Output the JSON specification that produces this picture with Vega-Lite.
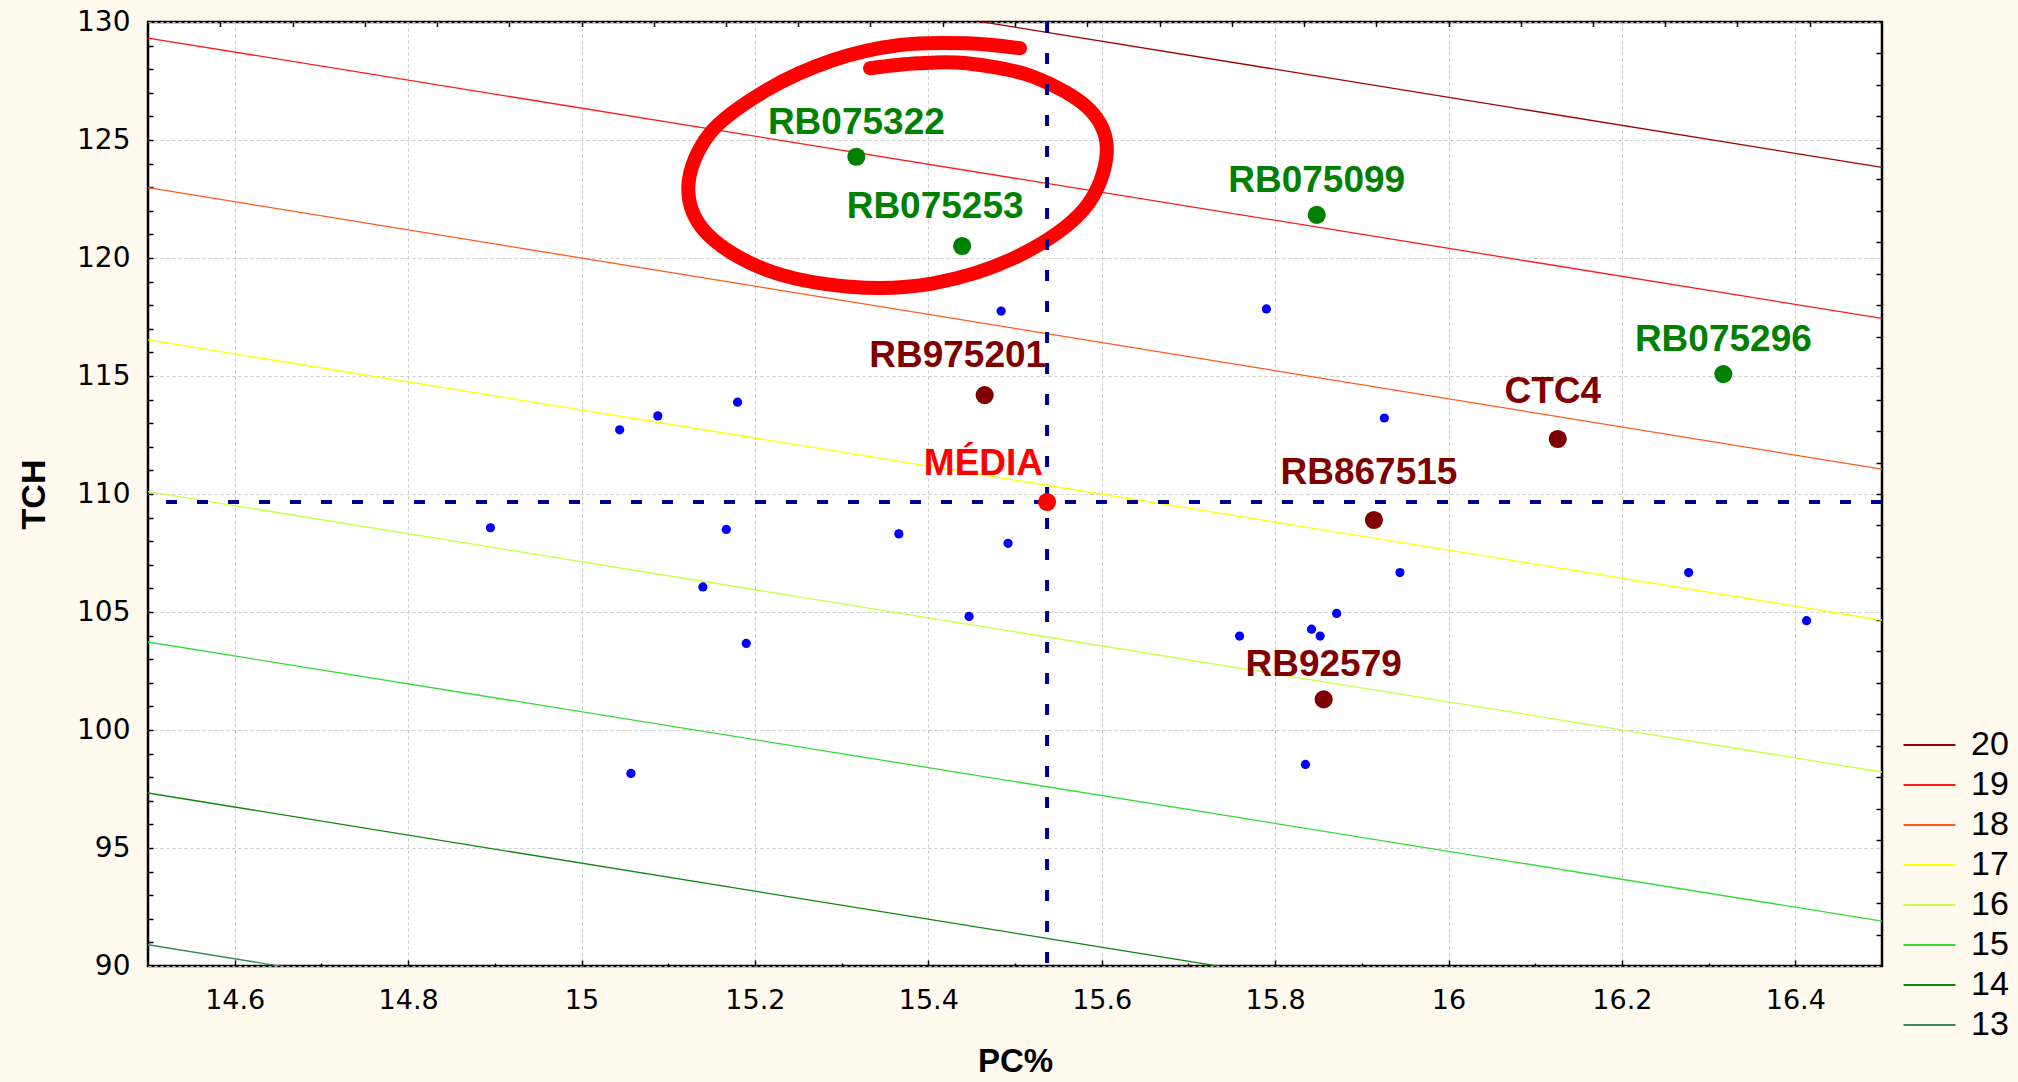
{
  "$schema": "https://vega.github.io/schema/vega-lite/v6.json",
  "width": 1734,
  "height": 944,
  "autosize": {"type": "none"},
  "padding": {"left": 148, "top": 22, "right": 136, "bottom": 116},
  "background": "#fff9ee",
  "config": {
    "view": {"fill": "white", "stroke": "black", "strokeWidth": 2.5},
    "axis": {"domain": false, "tickColor": "black", "tickWidth": 1.5}
  },
  "datasets": {
    "contours": [
      {"level": 20, "pc": 14.5, "tch": 135.72}, {"level": 20, "pc": 16.5, "tch": 123.84},
      {"level": 19, "pc": 14.5, "tch": 129.32}, {"level": 19, "pc": 16.5, "tch": 117.44},
      {"level": 18, "pc": 14.5, "tch": 122.98}, {"level": 18, "pc": 16.5, "tch": 111.05},
      {"level": 17, "pc": 14.5, "tch": 116.53}, {"level": 17, "pc": 16.5, "tch": 104.65},
      {"level": 16, "pc": 14.5, "tch": 110.10}, {"level": 16, "pc": 16.5, "tch": 98.22},
      {"level": 15, "pc": 14.5, "tch": 103.73}, {"level": 15, "pc": 16.5, "tch": 91.9},
      {"level": 14, "pc": 14.5, "tch": 97.33}, {"level": 14, "pc": 16.5, "tch": 85.45},
      {"level": 13, "pc": 14.5, "tch": 90.90}, {"level": 13, "pc": 16.5, "tch": 79.02}
    ],
    "clones": [
      {"pc": 15.484, "tch": 117.75}, {"pc": 15.790, "tch": 117.84}, {"pc": 15.926, "tch": 113.22},
      {"pc": 15.944, "tch": 106.67}, {"pc": 16.277, "tch": 106.67}, {"pc": 15.871, "tch": 104.94},
      {"pc": 15.842, "tch": 104.27}, {"pc": 15.852, "tch": 103.98}, {"pc": 15.759, "tch": 103.98},
      {"pc": 16.413, "tch": 104.63}, {"pc": 15.044, "tch": 112.72}, {"pc": 15.088, "tch": 113.31},
      {"pc": 15.180, "tch": 113.89}, {"pc": 15.167, "tch": 108.50}, {"pc": 15.366, "tch": 108.31},
      {"pc": 15.492, "tch": 107.91}, {"pc": 14.895, "tch": 108.57}, {"pc": 15.140, "tch": 106.06},
      {"pc": 15.447, "tch": 104.81}, {"pc": 15.190, "tch": 103.67}, {"pc": 15.057, "tch": 98.16},
      {"pc": 15.835, "tch": 98.54}
    ],
    "destaques": [
      {"rotulo": "RB075322", "tipo": "clone", "pc": 15.317, "tch": 124.29},
      {"rotulo": "RB075253", "tipo": "clone", "pc": 15.439, "tch": 120.51},
      {"rotulo": "RB075099", "tipo": "clone", "pc": 15.848, "tch": 121.83},
      {"rotulo": "RB075296", "tipo": "clone", "pc": 16.317, "tch": 115.08},
      {"rotulo": "CTC4", "tipo": "padrao", "pc": 16.126, "tch": 112.33},
      {"rotulo": "RB867515", "tipo": "padrao", "pc": 15.914, "tch": 108.90},
      {"rotulo": "RB92579", "tipo": "padrao", "pc": 15.856, "tch": 101.3},
      {"rotulo": "RB975201", "tipo": "padrao", "pc": 15.465, "tch": 114.19}
    ],
    "media": [{"rotulo": "MÉDIA", "pc": 15.537, "tch": 109.66}],
    "elipse": [
      {"ordem": 1, "pc": 15.5058, "tch": 128.886}, {"ordem": 2, "pc": 15.4443, "tch": 129.097},
      {"ordem": 3, "pc": 15.3674, "tch": 129.025}, {"ordem": 4, "pc": 15.2904, "tch": 128.390},
      {"ordem": 5, "pc": 15.2136, "tch": 127.119}, {"ordem": 6, "pc": 15.1482, "tch": 125.284},
      {"ordem": 7, "pc": 15.1232, "tch": 123.021}, {"ordem": 8, "pc": 15.1444, "tch": 121.047},
      {"ordem": 9, "pc": 15.2136, "tch": 119.492}, {"ordem": 10, "pc": 15.3097, "tch": 118.784},
      {"ordem": 11, "pc": 15.4058, "tch": 118.928}, {"ordem": 12, "pc": 15.5020, "tch": 120.055},
      {"ordem": 13, "pc": 15.5788, "tch": 122.034}, {"ordem": 14, "pc": 15.6058, "tch": 124.436},
      {"ordem": 15, "pc": 15.5865, "tch": 126.271}, {"ordem": 16, "pc": 15.5211, "tch": 127.682},
      {"ordem": 17, "pc": 15.4443, "tch": 128.250}, {"ordem": 18, "pc": 15.3882, "tch": 128.250},
      {"ordem": 19, "pc": 15.3328, "tch": 128.038}
    ]
  },
  "layer": [
    {
      "data": {"name": "contours"},
      "mark": {"type": "line", "clip": true, "strokeWidth": 1.3},
      "encoding": {
        "x": {"field": "pc", "type": "quantitative", "scale": {"domain": [14.5, 16.5], "nice": false, "zero": false},
          "axis": {"orient": "bottom", "title": "PC%", "values": [14.6, 14.8, 15, 15.2, 15.4, 15.6, 15.8, 16, 16.2, 16.4], "format": "~f",
            "ticks": false, "grid": true, "gridColor": "#c8c8c8", "gridDash": [3, 3], "gridWidth": 1,
            "labelFont": "DejaVu Sans", "labelFontSize": 27, "labelColor": "black", "labelPadding": 21,
            "titleFont": "Liberation Sans", "titleFontWeight": "bold", "titleFontSize": 33, "titleColor": "black",
            "titleX": 867, "titleY": 95, "titleBaseline": "middle", "titleAlign": "center"}},
        "y": {"field": "tch", "type": "quantitative", "scale": {"domain": [90, 130], "nice": false, "zero": false},
          "axis": {"orient": "left", "title": "TCH", "values": [90, 95, 100, 105, 110, 115, 120, 125, 130],
            "ticks": false, "grid": true, "gridColor": "#c8c8c8", "gridDash": [3, 3], "gridWidth": 1,
            "labelFont": "DejaVu Sans", "labelFontSize": 28, "labelColor": "black", "labelPadding": 18,
            "titleFont": "Liberation Sans", "titleFontWeight": "bold", "titleFontSize": 34, "titleColor": "black",
            "titleX": -114, "titleY": 472, "titleBaseline": "middle", "titleAlign": "center", "titleAngle": 270}},
        "color": {"field": "level", "type": "nominal",
          "scale": {"domain": [20, 19, 18, 17, 16, 15, 14, 13],
            "range": ["#a00000", "#ff1a1a", "#ff5a1a", "#ffff00", "#c8ff40", "#33dd33", "#0a8a0a", "#3a8a5a"]},
          "legend": {"orient": "none", "legendX": 1754, "legendY": 706, "title": null, "padding": 0,
            "symbolType": "stroke", "symbolSize": 2704, "symbolStrokeWidth": 2.2, "clipHeight": 34, "rowPadding": 6,
            "labelFont": "Liberation Sans", "labelFontSize": 34, "labelColor": "black", "labelOffset": 14}}
      }
    },
    {
      "data": {"name": "elipse"},
      "mark": {"type": "line", "color": "#ff0000", "strokeWidth": 14, "strokeCap": "round", "interpolate": "cardinal"},
      "encoding": {
        "x": {"field": "pc", "type": "quantitative", "scale": {"domain": [14.5, 16.5], "nice": false, "zero": false},
          "axis": {"orient": "top", "title": null, "labels": false, "grid": false, "tickSize": -4.5,
            "values": [14.583333, 14.666667, 14.75, 14.833333, 14.916667, 15.0, 15.083333, 15.166667, 15.25, 15.333333, 15.416667, 15.5, 15.583333, 15.666667, 15.75, 15.833333, 15.916667, 16.0, 16.083333, 16.166667, 16.25, 16.333333, 16.416667]}},
        "y": {"field": "tch", "type": "quantitative", "scale": {"domain": [90, 130], "nice": false, "zero": false}, "axis": null},
        "order": {"field": "ordem", "type": "quantitative"}
      }
    },
    {
      "data": {"name": "media"},
      "mark": {"type": "rule", "color": "#00008f", "strokeWidth": 4, "strokeDash": [11, 20]},
      "encoding": {
        "x": {"field": "pc", "type": "quantitative", "scale": {"domain": [14.5, 16.5], "nice": false, "zero": false},
          "axis": {"orient": "bottom", "title": null, "labels": false, "grid": false, "tickSize": -6,
            "values": [14.6, 14.8, 15, 15.2, 15.4, 15.6, 15.8, 16, 16.2, 16.4]}}
      }
    },
    {
      "data": {"name": "media"},
      "mark": {"type": "rule", "color": "#00008f", "strokeWidth": 4, "strokeDash": [11, 20]},
      "encoding": {
        "y": {"field": "tch", "type": "quantitative", "scale": {"domain": [90, 130], "nice": false, "zero": false},
          "axis": {"orient": "left", "title": null, "labels": false, "grid": false, "tickSize": -5,
            "values": [91, 92, 93, 94, 95, 96, 97, 98, 99, 100, 101, 102, 103, 104, 105, 106, 107, 108, 109, 110, 111, 112, 113, 114, 115, 116, 117, 118, 119, 120, 121, 122, 123, 124, 125, 126, 127, 128, 129]}}
      }
    },
    {
      "data": {"name": "clones"},
      "mark": {"type": "circle", "color": "#0000ff", "opacity": 1, "size": 85},
      "encoding": {
        "x": {"field": "pc", "type": "quantitative", "scale": {"domain": [14.5, 16.5], "nice": false, "zero": false},
          "axis": {"orient": "bottom", "title": null, "labels": false, "grid": false, "tickSize": -3,
            "values": [14.7, 14.9, 15.1, 15.3, 15.5, 15.7, 15.9, 16.1, 16.3]}},
        "y": {"field": "tch", "type": "quantitative", "scale": {"domain": [90, 130], "nice": false, "zero": false},
          "axis": {"orient": "right", "title": null, "labels": false, "grid": false, "tickSize": -6,
            "values": [91.333333, 92.666667, 94, 95.333333, 96.666667, 98, 99.333333, 100.666667, 102, 103.333333, 104.666667, 106, 107.333333, 108.666667, 110, 111.333333, 112.666667, 114, 115.333333, 116.666667, 118, 119.333333, 120.666667, 122, 123.333333, 124.666667, 126, 127.333333, 128.666667]}}
      }
    },
    {
      "data": {"name": "destaques"},
      "mark": {"type": "circle", "opacity": 1, "size": 330},
      "encoding": {
        "x": {"field": "pc", "type": "quantitative", "scale": {"domain": [14.5, 16.5], "nice": false, "zero": false}, "axis": null},
        "y": {"field": "tch", "type": "quantitative", "scale": {"domain": [90, 130], "nice": false, "zero": false}, "axis": null},
        "color": {"condition": {"test": "datum.tipo === 'clone'", "value": "#008000"}, "value": "#800000"}
      }
    },
    {
      "data": {"name": "media"},
      "mark": {"type": "circle", "opacity": 1, "size": 330, "color": "#ff0000"},
      "encoding": {
        "x": {"field": "pc", "type": "quantitative", "scale": {"domain": [14.5, 16.5], "nice": false, "zero": false}, "axis": null},
        "y": {"field": "tch", "type": "quantitative", "scale": {"domain": [90, 130], "nice": false, "zero": false}, "axis": null}
      }
    },
    {
      "data": {"name": "destaques"},
      "transform": [{"filter": {"field": "rotulo", "oneOf": ["RB075322", "RB075099", "RB075296", "RB92579"]}}],
      "mark": {"type": "text", "font": "Liberation Sans", "fontWeight": "bold", "fontSize": 37, "align": "center", "baseline": "alphabetic", "dy": -23},
      "encoding": {
        "x": {"field": "pc", "type": "quantitative", "scale": {"domain": [14.5, 16.5], "nice": false, "zero": false}, "axis": null},
        "y": {"field": "tch", "type": "quantitative", "scale": {"domain": [90, 130], "nice": false, "zero": false}, "axis": null},
        "text": {"field": "rotulo"},
        "color": {"condition": {"test": "datum.tipo === 'clone'", "value": "#008000"}, "value": "#800000"}
      }
    },
    {
      "data": {"name": "destaques"},
      "transform": [{"filter": {"field": "rotulo", "oneOf": ["CTC4", "RB867515"]}}],
      "mark": {"type": "text", "font": "Liberation Sans", "fontWeight": "bold", "fontSize": 37, "align": "center", "baseline": "alphabetic", "dy": -36, "dx": -5},
      "encoding": {
        "x": {"field": "pc", "type": "quantitative", "scale": {"domain": [14.5, 16.5], "nice": false, "zero": false}, "axis": null},
        "y": {"field": "tch", "type": "quantitative", "scale": {"domain": [90, 130], "nice": false, "zero": false}, "axis": null},
        "text": {"field": "rotulo"},
        "color": {"condition": {"test": "datum.tipo === 'clone'", "value": "#008000"}, "value": "#800000"}
      }
    },
    {
      "data": {"name": "destaques"},
      "transform": [{"filter": {"field": "rotulo", "oneOf": ["RB075253", "RB975201"]}}],
      "mark": {"type": "text", "font": "Liberation Sans", "fontWeight": "bold", "fontSize": 37, "align": "center", "baseline": "alphabetic", "dy": -28, "dx": -27},
      "encoding": {
        "x": {"field": "pc", "type": "quantitative", "scale": {"domain": [14.5, 16.5], "nice": false, "zero": false}, "axis": null},
        "y": {"field": "tch", "type": "quantitative", "scale": {"domain": [90, 130], "nice": false, "zero": false}, "axis": null},
        "text": {"field": "rotulo"},
        "color": {"condition": {"test": "datum.tipo === 'clone'", "value": "#008000"}, "value": "#800000"}
      }
    },
    {
      "data": {"name": "media"},
      "mark": {"type": "text", "font": "Liberation Sans", "fontWeight": "bold", "fontSize": 37, "align": "right", "baseline": "alphabetic", "dy": -27, "dx": -4, "color": "#ff0000"},
      "encoding": {
        "x": {"field": "pc", "type": "quantitative", "scale": {"domain": [14.5, 16.5], "nice": false, "zero": false}, "axis": null},
        "y": {"field": "tch", "type": "quantitative", "scale": {"domain": [90, 130], "nice": false, "zero": false}, "axis": null},
        "text": {"field": "rotulo"}
      }
    }
  ],
  "resolve": {"axis": {"x": "independent", "y": "independent"}}
}
